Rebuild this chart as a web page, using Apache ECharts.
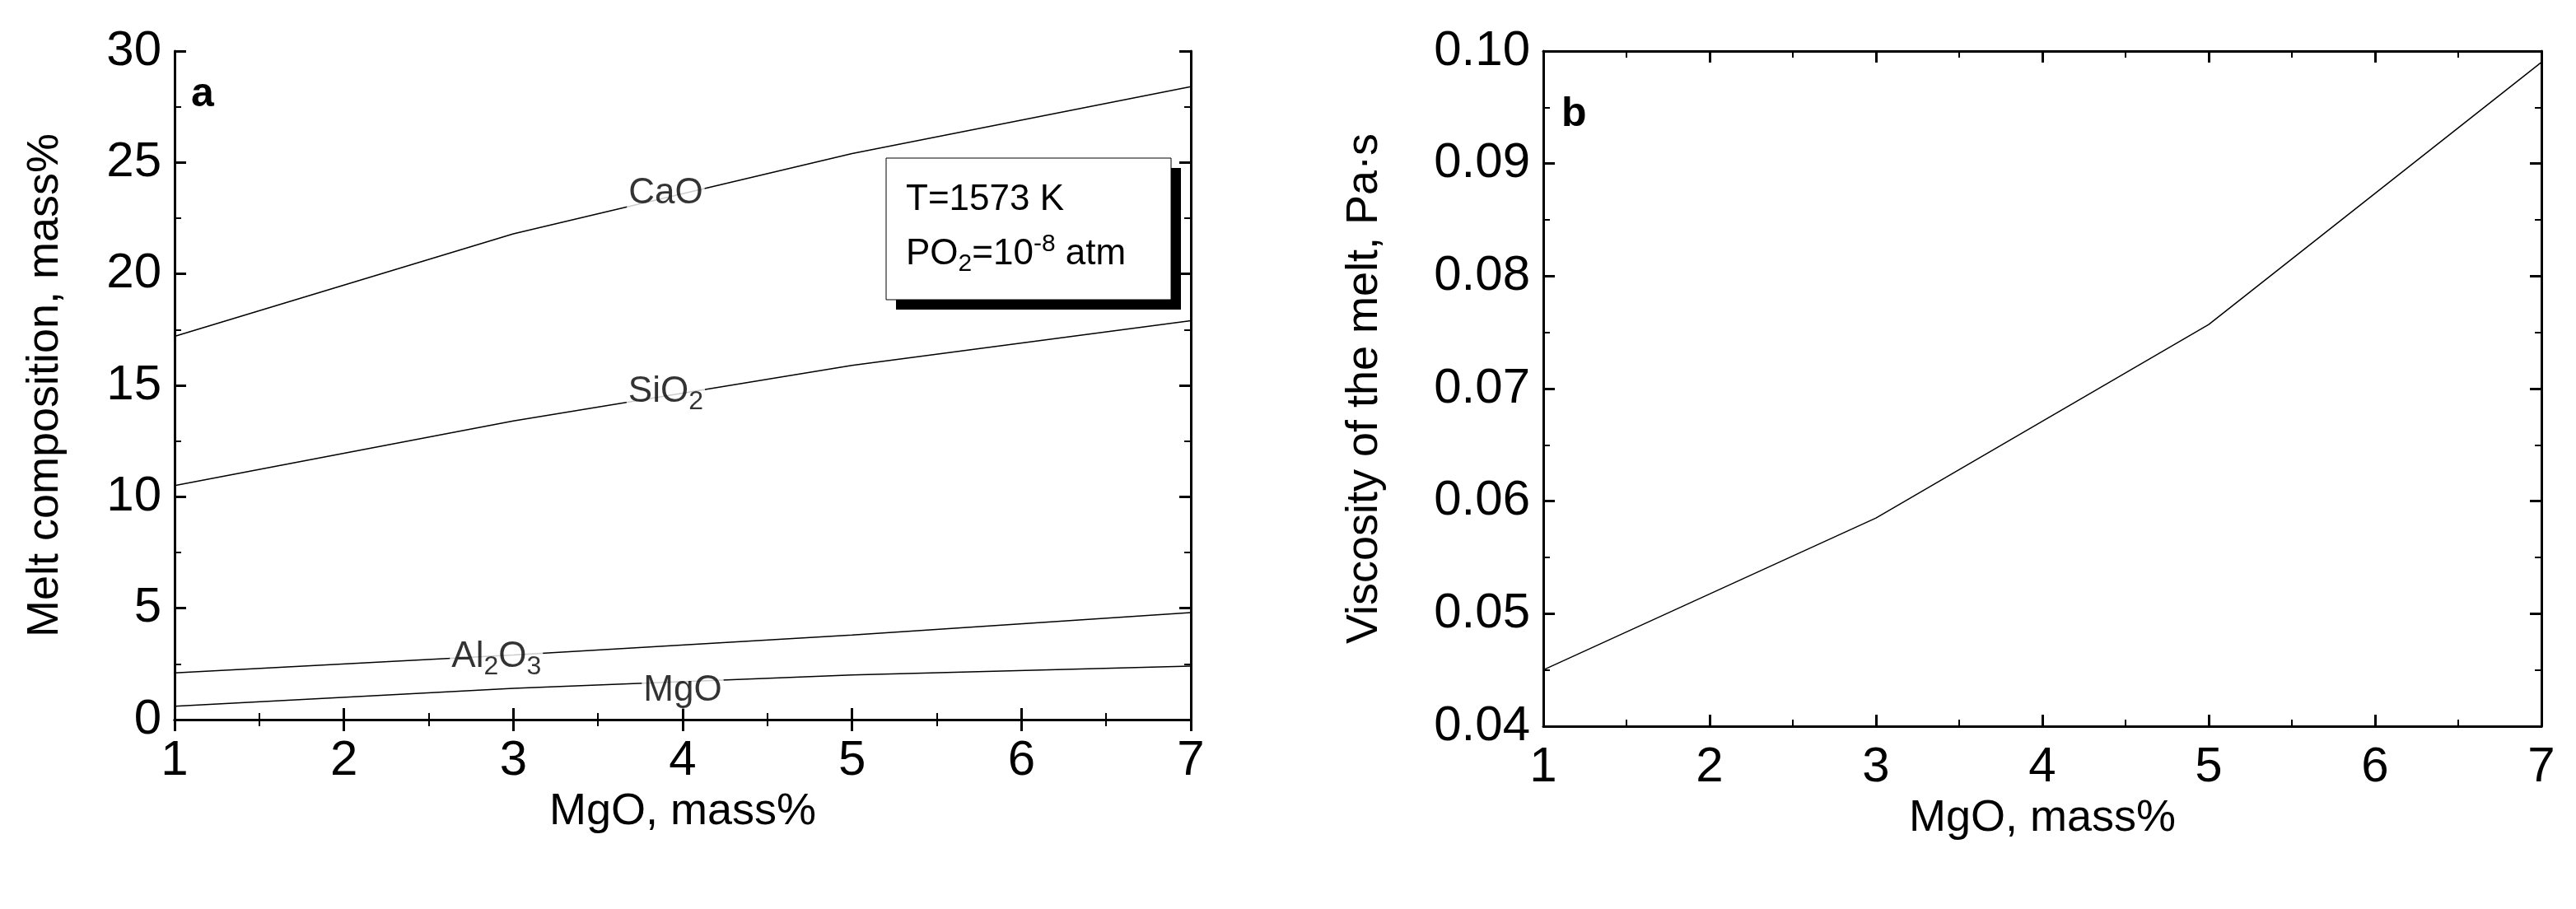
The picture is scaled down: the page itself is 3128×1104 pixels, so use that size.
<!DOCTYPE html>
<html>
<head>
<meta charset="utf-8">
<script src="https://cdn.jsdelivr.net/npm/echarts@6/dist/echarts.min.js"></script>
<style>
html, body { margin: 0; padding: 0; background: #fff; }
#chart { width: 3128px; height: 1104px; }
</style>
</head>
<body>
<div id="chart"></div>
<script>
( () => {
    const mgo = [ 1, 3, 5, 7 ];
    const cao = [ 17.2, 21.8, 25.4, 28.4 ];
    const sio2 = [ 10.5, 13.4, 15.9, 17.9 ];
    const al2o3 = [ 2.1, 2.9, 3.8, 4.8 ];
    const mgoMelt = [ 0.6, 1.4, 2.0, 2.4 ];
    const viscosity = [ 0.045, 0.0585, 0.0757, 0.099 ];

    // line labels: [x, y, text]
    const lineLabels = [
        [ 3.9, 23.6, '{n|CaO}' ],
        [ 3.9, 14.7, '{n|SiO}{s|2}' ],
        [ 2.9, 2.8, '{n|Al}{s|2}{n|O}{s|3}' ],
        [ 4.0, 1.3, '{n|MgO}' ],
    ];

    const narrow = '"Liberation Sans Narrow", "Liberation Sans", sans-serif';
    const axisColor = '#000';

    const chart = echarts.init( document.getElementById( 'chart' ), null, { renderer: 'canvas' } );

    const axisLine = { lineStyle: { color: axisColor, width: 3 } };
    const axisTick = { inside: true, length: 14, lineStyle: { color: axisColor, width: 3 } };
    const minorTick = { show: true, splitNumber: 2, length: 8, lineStyle: { color: axisColor, width: 2 } };

    const xAxisFor = ( gi ) => [
        {
            type: 'value', gridIndex: gi, min: 1, max: 7, interval: 1,
            name: 'MgO, mass%', nameLocation: 'middle', nameGap: 84,
            nameTextStyle: { fontFamily: narrow, fontSize: 54, color: '#000' },
            axisLabel: { fontFamily: narrow, fontSize: 60, color: '#000', margin: 20 },
            axisLine, axisTick, minorTick, splitLine: { show: false },
        },
        {
            type: 'value', gridIndex: gi, min: 1, max: 7, interval: 1, position: 'top',
            axisLabel: { show: false },
            axisLine, axisTick, minorTick, splitLine: { show: false },
        },
    ];

    const yAxisFor = ( gi, min, max, interval, name, fmt ) => [
        {
            type: 'value', gridIndex: gi, min, max, interval,
            name, nameLocation: 'middle', nameGap: gi === 0 ? 130 : 190,
            nameTextStyle: { fontFamily: '"Liberation Sans", Arial, sans-serif', fontSize: 54, color: '#000' },
            axisLabel: { fontFamily: narrow, fontSize: 60, color: '#000', margin: 16, formatter: fmt },
            axisLine, axisTick, minorTick, splitLine: { show: false },
        },
        {
            type: 'value', gridIndex: gi, min, max, interval, position: 'right',
            axisLabel: { show: false },
            axisLine, axisTick, minorTick, splitLine: { show: false },
        },
    ];

    const zip = ( ys ) => mgo.map( ( x, i ) => [ x, ys[ i ] ] );
    const lineSeries = ( ys, gi ) => ( {
        type: 'line', xAxisIndex: gi * 2, yAxisIndex: gi * 2,
        data: zip( ys ), showSymbol: false, silent: true,
        lineStyle: { color: '#000', width: 1.5 },
    } );

    const option = {
        animation: false,
        backgroundColor: '#fff',
        grid: [
            { left: 212, right: 3128 - 1446, top: 62, bottom: 1104 - 874 },
            { left: 1874, right: 3128 - 3086, top: 62, bottom: 1104 - 882 },
        ],
        xAxis: [ ...xAxisFor( 0 ), ...xAxisFor( 1 ) ],
        yAxis: [
            ...yAxisFor( 0, 0, 30, 5, 'Melt composition, mass%', ( v ) => String( v ) ),
            ...yAxisFor( 1, 0.04, 0.1, 0.01, 'Viscosity of the melt, Pa·s', ( v ) => v.toFixed( 2 ) ),
        ],
        series: [
            lineSeries( cao, 0 ),
            lineSeries( sio2, 0 ),
            lineSeries( al2o3, 0 ),
            lineSeries( mgoMelt, 0 ),
            lineSeries( viscosity, 1 ),
            {
                type: 'scatter', xAxisIndex: 0, yAxisIndex: 0, symbolSize: 0, silent: true, z: 5,
                data: lineLabels.map( ( d ) => ( { value: [ d[ 0 ], d[ 1 ] ], text: d[ 2 ] } ) ),
                label: {
                    show: true, position: 'inside',
                    formatter: ( p ) => p.data.text,
                    backgroundColor: '#fff', padding: [ 0, 2 ],
                    rich: {
                        n: { fontFamily: narrow, fontSize: 44, color: '#000' },
                        s: { fontFamily: narrow, fontSize: 32, color: '#000', padding: [ 24, 0, 0, 0 ] },
                    },
                },
            },
        ],
        graphic: [
            { type: 'text', left: 232, top: 90, style: { text: 'a', font: 'bold 50px "Liberation Sans", sans-serif', fill: '#000' } },
            { type: 'text', left: 1896, top: 114, style: { text: 'b', font: 'bold 50px "Liberation Sans", sans-serif', fill: '#000' } },
            { type: 'rect', shape: { x: 1088, y: 204, width: 346, height: 172 }, style: { fill: '#000' } },
            { type: 'rect', shape: { x: 1076, y: 192, width: 346, height: 172 }, style: { fill: '#fff', stroke: '#000', lineWidth: 1 } },
            {
                type: 'text', left: 1100, top: 210,
                style: {
                    text: '{n|T=1573 K}\n{n|PO}{s|2}{n|=10}{p|-8}{n| atm}',
                    lineHeight: 66,
                    rich: {
                        n: { fontFamily: narrow, fontSize: 44, fill: '#000', lineHeight: 66 },
                        s: { fontFamily: narrow, fontSize: 30, fill: '#000', padding: [ 24, 0, 0, 0 ], lineHeight: 66 },
                        p: { fontFamily: narrow, fontSize: 30, fill: '#000', padding: [ 0, 0, 24, 0 ], lineHeight: 66 },
                    },
                },
            },
        ],
    };

    chart.setOption( option );
} ) ();
</script>
</body>
</html>
